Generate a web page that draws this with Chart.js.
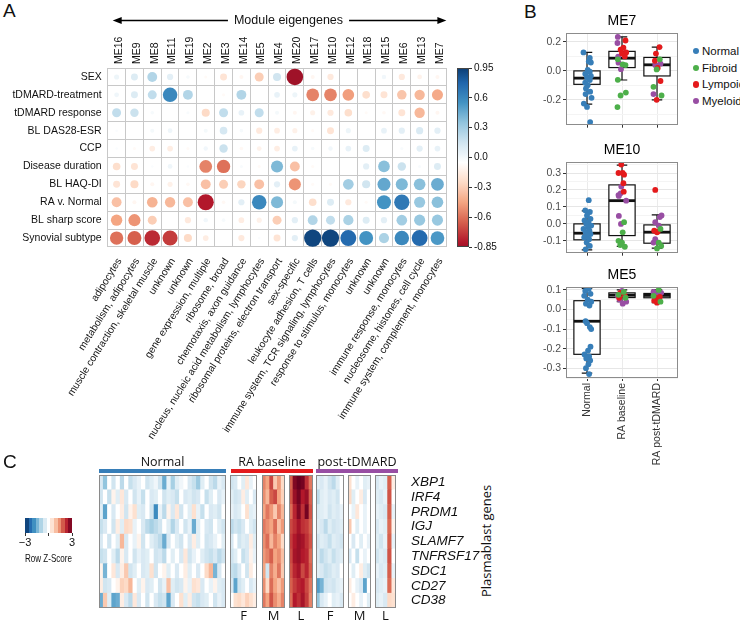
<!DOCTYPE html>
<html>
<head>
<meta charset="utf-8">
<script src="https://cdn.jsdelivr.net/npm/chart.js@4.4.1/dist/chart.umd.min.js"></script>
<style>
  body { margin: 0; background: #fff; width: 740px; height: 624px; position: relative; overflow: hidden;
         font-family: "Liberation Sans", Arial, sans-serif; color: #111; }
  canvas, .t { position: absolute; }
  .t { white-space: nowrap; }
  .letter { font-size: 19px; }
  .grp { font-family: "Open Sans", sans-serif; font-size: 12.5px; text-align: center; top: 455px; line-height: 14px; }
  .bar { position: absolute; top: 469px; height: 3.5px; }
  .dot { position: absolute; left: 692.5px; width: 6.5px; height: 6.5px; border-radius: 50%; }
  .leg { position: absolute; left: 702px; font-size: 11.5px; line-height: 14px; }
</style>
</head>
<body>
<div class="t letter" style="left:3px;top:0px">A</div>
<div class="t letter" style="left:524px;top:1px">B</div>

<canvas id="cA" width="455" height="455" style="left:0;top:0"></canvas>
<canvas id="cBar" width="45" height="195" style="left:452px;top:60px"></canvas>

<canvas id="cB1" width="160" height="122" style="left:525px;top:11px"></canvas>
<canvas id="cB2" width="160" height="121" style="left:525px;top:140px"></canvas>
<canvas id="cB3" width="160" height="208" style="left:525px;top:265px"></canvas>
<div id="legendB"></div>

<div class="t letter" style="left:3px;top:451px">C</div>
<div class="t grp" style="left:99px;width:127px">Normal</div>
<div class="t grp" style="left:231px;width:82px">RA baseline</div>
<div class="t grp" style="left:316px;width:82px">post-tDMARD</div>
<div class="bar" style="left:99px;width:127px;background:#377EB8"></div>
<div class="bar" style="left:231px;width:82px;background:#E41A1C"></div>
<div class="bar" style="left:316px;width:82px;background:#984EA3"></div>
<div class="t" style="left:430px;top:532px;width:112px;text-align:center;font-family:'Open Sans',sans-serif;font-size:13px;transform:rotate(-90deg)">Plasmablast genes</div>

<canvas id="cKey" width="70" height="55" style="left:15px;top:510px"></canvas>
<canvas id="cH0" width="127" height="149" style="left:99px;top:475px"></canvas>
<canvas id="cH1" width="27" height="149" style="left:230px;top:475px"></canvas>
<canvas id="cH2" width="23" height="149" style="left:262px;top:475px"></canvas>
<canvas id="cH3" width="24" height="149" style="left:289px;top:475px"></canvas>
<canvas id="cH4" width="28" height="149" style="left:316px;top:475px"></canvas>
<canvas id="cH5" width="23" height="149" style="left:348px;top:475px"></canvas>
<canvas id="cH6" width="121" height="149" style="left:375px;top:475px"></canvas>

<script>
// ---------- panel A data ----------
const traits = ['SEX', 'tDMARD-treatment', 'tDMARD response', 'BL DAS28-ESR', 'CCP', 'Disease duration',
  'BL HAQ-DI', 'RA v. Normal', 'BL sharp score', 'Synovial subtype'];
const modules = ['ME16', 'ME9', 'ME8', 'ME11', 'ME19', 'ME2', 'ME3', 'ME14', 'ME5', 'ME4', 'ME20',
  'ME17', 'ME10', 'ME12', 'ME18', 'ME15', 'ME6', 'ME13', 'ME7'];
const moduleNotes = ['adipocytes', 'metabolism, adipocytes', 'muscle contraction, skeletal muscle', 'unknown',
  'unknown', 'gene expression, multiple', 'ribosome, broad', 'chemotaxis, axon guidance',
  'nucleus, nucleic acid metabolism, lymphocytes', 'ribosomal proteins, electron transport', 'sex-specific',
  'leukocyte adhesion, T cells', 'immune system, TCR signaling, lymphocytes', 'response to stimulus, monocytes',
  'unknown', 'unknown', 'immune response, monocytes', 'nucleosome, histones, cell cycle',
  'immune system, complement, monocytes'];

const corrSex       = [0.08, 0.15, 0.3, 0.12, 0.04, -0.03, -0.15, -0.05, -0.25, 0.2, -0.85, -0.05, -0.12, 0, 0, 0.06, -0.12, -0.07, -0.05];
const corrTreatment = [0.07, 0.15, 0.25, 0.65, 0.3, 0, -0.03, 0.3, 0, 0.1, 0.08, -0.5, -0.5, -0.42, -0.18, -0.15, -0.28, -0.33, -0.38];
const corrResponse  = [0.25, 0.22, 0.04, 0, 0.03, -0.2, 0.25, 0.1, 0.25, 0.05, -0.05, -0.08, -0.12, -0.18, -0.03, -0.04, -0.15, -0.33, -0.05];
const corrDas28     = [0.02, 0, 0.05, 0.07, 0, 0.05, 0.18, 0.04, -0.12, -0.1, -0.08, -0.03, -0.15, 0.08, 0, 0.1, 0.12, 0.16, 0.12];
const corrCcp       = [0.02, -0.03, -0.1, -0.1, -0.03, 0.06, 0.22, -0.04, -0.07, -0.1, 0.1, 0.04, 0.06, 0.1, 0.15, 0, 0.03, 0.12, 0.1];
const corrDuration  = [-0.18, -0.15, 0.02, 0.07, 0.02, -0.5, -0.55, 0.03, -0.03, 0.45, -0.3, -0.03, 0, 0, 0.12, 0.42, 0.22, 0.03, 0.15];
const corrHaq       = [-0.15, -0.2, -0.05, -0.08, -0.04, -0.3, -0.25, -0.22, -0.3, 0.12, -0.45, -0.03, -0.03, 0.35, 0.2, 0.52, 0.45, 0.42, 0.5];
const corrRaNormal  = [-0.3, -0.05, -0.35, -0.33, -0.3, -0.8, -0.04, 0.12, 0.65, 0.45, 0.05, -0.18, 0.15, -0.12, -0.03, 0.6, 0.72, 0.38, 0.42];
const corrSharp     = [-0.4, -0.45, -0.25, 0, -0.12, 0.06, 0.04, -0.1, -0.08, -0.25, 0.12, 0.3, 0.25, 0.32, 0.15, 0.12, 0.35, 0.38, 0.38];
const corrSubtype   = [-0.55, -0.6, -0.75, -0.7, -0.2, -0.1, 0, -0.12, 0.02, -0.15, 0.12, 0.92, 0.92, 0.78, 0.6, 0.32, 0.65, 0.78, 0.58];
const corrRows = [corrSex, corrTreatment, corrResponse, corrDas28, corrCcp, corrDuration, corrHaq, corrRaNormal, corrSharp, corrSubtype];

const cbarTicks = [0.95, 0.65, 0.35, 0.05, -0.25, -0.55, -0.85];
const cbarLabels = ['0.95', '0.6', '0.3', '0.0', '-0.3', '-0.6', '-0.85'];

// ---------- panel B data ----------
const groups = ['Normal', 'RA baseline', 'RA post-tDMARD'];
const subtypes = ['Normal', 'Fibroid', 'Lympoid', 'Myeloid'];
const subColors = ['#377EB8', '#4DAF4A', '#E41A1C', '#984EA3'];

const me7Normal = [[0.9, 0.128], [1.08, 0.089], [1.05, 0.065], [1.11, 0.058], [1.02, 0.007], [1.08, -0.005], [0.95, -0.02],
  [1.11, -0.035], [1.0, -0.044], [1.08, -0.063], [0.95, -0.082], [1.02, -0.1], [0.97, -0.121], [1.09, -0.144],
  [0.96, -0.16], [1.13, -0.186], [0.91, -0.226], [1.0, -0.249], [1.09, -0.354]];
const me7Fibroid = [[1.88, 0.08], [2.02, 0.045], [2.1, 0.04], [1.88, -0.062], [2.11, -0.15], [1.96, -0.17], [1.87, -0.25],
  [3.08, 0.08], [2.99, 0.01], [2.9, -0.11], [3.13, -0.17]];
const me7Lympoid = [[2.1, 0.21], [2.04, 0.16], [1.96, 0.147], [2.12, 0.128], [2.0, 0.12], [2.08, 0.1],
  [3.07, 0.165], [2.97, 0.12], [2.94, 0.07], [3.02, 0.02], [3.1, -0.07], [2.99, -0.2]];
const me7Myeloid = [[1.88, 0.235], [1.87, 0.193], [1.89, 0.098], [1.9, 0.057], [1.97, 0.012],
  [2.95, 0.04], [3.1, 0.05], [2.9, -0.16]];
const me7Stats = [[-0.23, -0.093, -0.05, 0.0, 0.128], [-0.063, 0.023, 0.088, 0.135, 0.235], [-0.2, -0.035, 0.042, 0.093, 0.165]];
const me7Ticks = [-0.3, -0.2, -0.1, 0, 0.1, 0.2];

const me10Normal = [[1.05, 0.14], [0.95, 0.08], [1.08, 0.07], [1.0, 0.05], [1.1, 0.03], [0.93, 0.02], [1.04, 0.01],
  [0.98, 0.0], [1.12, -0.01], [1.03, -0.02], [0.9, -0.03], [1.07, -0.04], [0.96, -0.05], [1.1, -0.06], [1.0, -0.07],
  [0.92, -0.08], [1.06, -0.09], [0.99, -0.11], [1.08, -0.13], [0.96, -0.15]];
const me10Fibroid = [[2.06, 0.01], [2.02, -0.05], [1.9, -0.1], [2.0, -0.11], [1.95, -0.125], [2.08, -0.135],
  [3.1, -0.03], [3.05, -0.11], [3.12, -0.13], [3.0, -0.145]];
const me10Lympoid = [[1.98, 0.35], [1.9, 0.3], [2.02, 0.3], [2.06, 0.29], [2.04, 0.24], [2.05, 0.19],
  [2.95, 0.2], [2.92, -0.04], [3.02, -0.045], [3.0, -0.05]];
const me10Myeloid = [[1.98, 0.22], [1.9, 0.17], [1.96, 0.18], [1.91, 0.165], [2.12, 0.137], [1.91, 0.047], [1.97, 0.0],
  [3.13, 0.05], [3.08, 0.04], [2.95, 0.01], [3.05, -0.01], [2.9, -0.11], [2.95, -0.09]];
const me10Stats = [[-0.153, -0.094, -0.055, 0.0, 0.077], [-0.133, -0.069, 0.137, 0.23, 0.347], [-0.143, -0.114, -0.049, -0.006, 0.053]];
const me10Ticks = [-0.15, -0.1, -0.05, 0, 0.05, 0.1, 0.15, 0.2, 0.25, 0.3, 0.35];

const me5Normal = [[1.05, 0.105], [0.95, 0.095], [1.1, 0.08], [0.92, 0.07], [1.02, 0.05], [1.12, 0.04], [0.97, 0.03],
  [1.07, 0.02], [0.96, -0.06], [1.0, -0.07], [1.08, -0.09], [1.12, -0.1], [1.1, -0.19], [1.03, -0.21], [0.93, -0.23],
  [1.06, -0.24], [0.98, -0.25], [1.09, -0.26], [1.04, -0.28], [0.97, -0.3], [1.06, -0.33]];
const me5Fibroid = [[2.05, 0.09], [1.9, 0.075], [2.1, 0.06], [3.05, 0.1], [3.1, 0.04], [2.9, 0.07]];
const me5Lympoid = [[1.95, 0.085], [2.08, 0.07], [1.92, 0.06], [2.95, 0.06], [3.02, 0.05], [2.92, 0.045], [3.08, 0.065], [3.0, 0.035]];
const me5Myeloid = [[2.0, 0.095], [1.93, 0.05], [2.12, 0.04], [2.02, 0.03], [1.88, 0.07], [2.9, 0.09], [3.12, 0.085], [3.0, 0.075]];
const me5Stats = [[-0.325, -0.229, -0.06, 0.045, 0.108], [0.04, 0.061, 0.073, 0.085, 0.1], [0.035, 0.06, 0.072, 0.082, 0.1]];
const me5Ticks = [-0.35, -0.3, -0.25, -0.2, -0.15, -0.1, -0.05, 0, 0.05, 0.1];

// ---------- panel C data (row z-scores) ----------
const geneNames = ['XBP1', 'IRF4', 'PRDM1', 'IGJ', 'SLAMF7', 'TNFRSF17', 'SDC1', 'CD27', 'CD38'];
const heatNormal = [
  [-0.5, -1.2, 0, -0.6, 0, -0.8, 0, -0.7, -0.5, -0.3, 0, -0.6, -0.4, -0.2, -0.6, -1.5, -0.3, -1, -0.4, -0.2, 0, -0.5, -0.7, -1.1, -0.4, 0, -0.6, -0.8, -0.3, -0.5],
  [-0.6, 0, -0.7, 0.2, -0.4, 0.4, -0.5, 0, -0.6, -0.3, -0.7, 0, -0.5, -0.4, 0, -0.6, -0.4, -0.5, -0.7, 0, -0.5, -0.4, -0.6, -0.5, 0, -0.7, -0.4, 0, -0.5, -0.3],
  [-0.4, -1.6, 0, -0.5, 0, 0.3, -0.6, 0.2, 0.5, -0.4, -0.5, 0, -0.6, -1.9, -0.3, -0.8, 0.2, -0.5, 0.4, -0.6, 0, -0.4, 0.5, -0.3, -0.7, 0, -0.5, -0.4, -0.6, 0],
  [-0.7, -0.5, 0, -0.6, 0.3, -0.4, 0.6, 0.5, -0.3, 0, -0.5, -0.8, -1, -0.8, -0.6, 0, -0.4, -0.9, -0.5, 0, -0.6, -0.3, -1.5, -0.4, 0, -0.5, -0.6, 0, -0.4, -0.6],
  [-0.5, 0, -0.6, 0, -0.4, 1, -0.5, 0, -0.3, 0.2, -0.6, 0, -0.4, -0.6, -0.8, -1.5, -0.5, 0, -0.4, -0.6, 0, -0.5, 0.3, -0.4, 0, -0.6, -0.5, -0.3, 0, -0.4],
  [-0.7, -0.6, 0, -0.4, -0.8, 0.2, -0.5, 0, -0.6, -0.3, -0.5, -0.4, 0, -0.6, -0.5, -0.8, 0, -0.4, 0, -0.5, 0.4, -0.6, -0.3, 0, -0.4, -0.6, -0.7, -0.5, -0.8, -0.6],
  [0.2, -1.4, 0, 0.4, -0.5, 0.3, 0.8, -0.6, -0.4, 0, -0.5, -0.4, 0.5, -0.6, 0, 0.2, -0.4, 0, -0.5, 0, 0.3, -0.4, 0, -0.5, 0, 0.6, 1, -1.4, -0.5, 0],
  [0.3, -0.6, -0.5, 0, 0.2, 0.7, 0.6, 1, 0, -0.4, 0.2, -0.5, -0.4, 0, -0.6, -0.3, 0.9, -0.4, -0.6, -0.5, 0.2, -0.3, 0.5, 0.4, -0.5, 0, -0.3, 0.2, -0.4, -0.5],
  [-1.5, 0.8, -0.4, -1.6, -1.5, 0.3, -0.5, -0.8, 0.4, -0.5, 0, -0.6, 0, -0.5, -0.7, -0.6, -1.6, -0.5, 0, 0.5, -0.4, 0.3, -0.6, -0.7, -0.5, -0.4, 0, -0.6, -0.3, -0.5]
];
const heatRaF = [
  [-0.6, -0.5, 0, -0.4, 0.4, -0.3, 0], [-0.4, -0.6, -0.5, 0.3, -0.4, 0, -0.5], [-0.3, -0.5, -0.4, 0, 0.5, -0.4, -0.3],
  [-0.8, -0.6, -0.7, -0.5, 0, -0.4, -0.6], [-0.5, 0, -0.6, -0.4, -0.5, 0.3, -0.4], [-0.6, -0.4, 0, -0.7, -0.5, 0.2, -0.3],
  [-0.7, -0.8, -0.5, 0, -0.6, 0.3, 0], [-0.5, -1.6, -0.6, -0.4, 0, -0.5, -0.3], [0, 0.5, 0.6, 0.4, 0.7, 0.5, 0.3]
];
const heatRaM = [
  [1.5, 1.2, 2, 0.8, 1.3, 0.6], [1.4, 1, 1.8, 2, 1.2, 0.7], [1.2, 1.6, 1.3, 0.8, 1.5, 1],
  [1.6, 1.4, 1.2, 1.7, 0.9, 1.3], [1.4, 1.7, 1, 1.5, 1.2, 0.6], [1.3, 1.5, 1.8, 1.2, 1.4, 0.9],
  [1.2, -0.6, 1.5, 1.1, 1.6, 0.8], [1.4, 0.6, 1.7, 1.2, 0.9, 1.3], [1.6, 1.2, 1.9, 1.4, 1.1, 1.5]
];
const heatRaL = [
  [1.8, 2.8, 3, 2.9, 2.2, 1.6], [1.9, 2.6, 2.9, 2.4, 2.6, 1.8], [1.7, 2.3, 2.8, 2.2, 2.9, 1.9],
  [2, 2.2, 2.5, 2.2, 2.1, 1.8], [2.1, 2.4, 2.6, 2.5, 2.2, 1.9], [2, 2.5, 2.6, 2.4, 2.3, 1.7],
  [1.9, 2.3, 2.5, 2, 2.3, 1.8], [1.8, 2.1, 2.3, 2.4, 2, 1.6], [1.7, 2.4, 2.2, 2.5, 2.1, 1.5]
];
const heatPostF = [
  [-0.4, -0.5, -0.3, -0.6, -0.8, -0.4, 0], [-0.8, -0.4, -0.3, -0.5, -0.4, -0.6, 0], [-0.5, -0.4, -0.3, -0.6, -0.4, -0.5, -0.3],
  [-0.4, -0.5, -0.8, -0.4, -0.6, -0.5, -0.4], [-0.6, -0.4, -0.5, -0.7, -0.4, -0.5, -0.6], [-0.5, -0.8, -0.6, -0.4, -0.7, -0.5, -0.4],
  [-0.4, -0.5, -0.7, -0.6, -0.4, -0.5, 0], [-1.7, -1.4, -0.6, -0.5, -0.6, -0.4, -0.3], [-1.2, -0.5, -0.3, 0, -0.4, -0.3, -0.5]
];
const heatPostM = [
  [0.5, 0, -0.3, 0, -0.4, -0.3], [0.6, -0.4, 0, 0.3, -0.5, 0], [0, -0.3, 0.4, 0, -0.3, 0],
  [0.8, 0, -0.4, 0, -0.3, 0], [0, -0.5, 0, -0.4, 0, -0.3], [-0.5, 0, -0.7, 0, -0.3, 0],
  [0, -0.4, 0, 0.3, -0.4, -0.6], [0.3, 0, -0.3, -0.5, -1.6, 0], [0, 0.3, 0, -0.3, 0, -0.4]
];
const heatPostL = [
  [-0.5, -0.3, -0.4, 1.8, 0.3], [-0.4, -0.5, -0.3, 1.9, 0], [-0.3, -0.4, -0.5, 1.8, -0.3],
  [-0.5, -0.3, -0.4, 1.7, 0.2], [-0.4, -0.6, -0.3, 1.8, -0.3], [-0.6, -0.4, -0.5, 1.9, 0],
  [-0.3, -0.5, -0.4, 1.8, -0.3], [-0.5, -0.4, -0.3, 1.7, 0.4], [-0.4, -0.3, -0.5, 0.6, 0.5]
];
const keyTicks = [-3, 0, 3];
const keyLabels = ['\u22123', '', '3'];

// ---------- colours ----------
const PAL = ['#67001F', '#B2182B', '#D6604D', '#F4A582', '#FDDBC7', '#FFFFFF', '#D1E5F0', '#92C5DE', '#4393C3', '#2166AC', '#053061'];
const PALRGB = PAL.map(h => [1, 3, 5].map(i => parseInt(h.slice(i, i + 2), 16)));
function mix(t) {
  t = Math.max(0, Math.min(1, t));
  const p = t * (PAL.length - 1);
  const i = Math.min(Math.floor(p), PAL.length - 2), f = p - i;
  const a = PALRGB[i], b = PALRGB[i + 1];
  return 'rgb(' + a.map((c, k) => Math.round(c + (b[k] - c) * f)).join(',') + ')';
}
const corrColor = v => mix((v + 1) / 2);
const zColor = z => mix((3 - z) / 6);

Chart.defaults.font.family = '"Liberation Sans", Arial, sans-serif';
Chart.defaults.color = '#111';

function framePlugin(color) {
  return {
    id: 'frame',
    afterDraw(chart) {
      const a = chart.chartArea, ctx = chart.ctx;
      ctx.save();
      ctx.strokeStyle = color;
      ctx.lineWidth = 1;
      const l = Math.round(a.left) + 0.5, t = Math.round(a.top) + 0.5;
      ctx.strokeRect(l, t, Math.round(a.right) - 1 - l + 0.5, Math.round(a.bottom) - 1 - t + 0.5);
      ctx.restore();
    }
  };
}

// ---------- panel A ----------
const arrowHeader = {
  id: 'arrowHeader',
  afterDraw(chart) {
    const {ctx, chartArea: a} = chart;
    const y = 20.5, x0 = a.left + 5, x1 = a.right;
    ctx.save();
    ctx.strokeStyle = '#000';
    ctx.fillStyle = '#000';
    ctx.lineWidth = 1.5;
    ctx.beginPath(); ctx.moveTo(x0 + 6, y); ctx.lineTo(x1 - 6, y); ctx.stroke();
    ctx.beginPath(); ctx.moveTo(x0, y); ctx.lineTo(x0 + 9, y - 3.5); ctx.lineTo(x0 + 9, y + 3.5); ctx.closePath(); ctx.fill();
    ctx.beginPath(); ctx.moveTo(x1, y); ctx.lineTo(x1 - 9, y - 3.5); ctx.lineTo(x1 - 9, y + 3.5); ctx.closePath(); ctx.fill();
    ctx.font = '12.5px "Liberation Sans", Arial, sans-serif';
    const text = 'Module eigengenes';
    const w = ctx.measureText(text).width, cx = 288.5;
    ctx.fillStyle = '#fff';
    ctx.fillRect(cx - w / 2 - 6, y - 8, w + 12, 16);
    ctx.fillStyle = '#111';
    ctx.textAlign = 'center';
    ctx.textBaseline = 'middle';
    ctx.fillText(text, cx, y);
    ctx.restore();
  }
};

const ptsA = [];
traits.forEach((t, j) => corrRows[j].forEach((v, i) => ptsA.push({x: modules[i], y: t, v: v})));

new Chart(document.getElementById('cA'), {
  type: 'scatter',
  data: {
    datasets: [{
      data: ptsA,
      pointRadius: c => Math.sqrt(Math.abs(c.raw.v)) * 9,
      backgroundColor: c => corrColor(c.raw.v),
      borderWidth: 0
    }]
  },
  options: {
    responsive: false, animation: false, events: [],
    layout: {padding: {right: 5}},
    plugins: {legend: {display: false}, tooltip: {enabled: false}},
    scales: {
      x: {
        type: 'category', labels: modules, position: 'top', offset: true,
        grid: {offset: true, color: '#c8c8c8', drawTicks: false}, border: {display: false},
        ticks: {autoSkip: false, minRotation: 90, maxRotation: 90, padding: 4, labelOffset: 15, color: '#111', font: {size: 10.5}},
        afterFit: s => { s.height = 68; }
      },
      xb: {
        type: 'category', labels: moduleNotes, position: 'bottom', offset: true,
        grid: {display: false}, border: {display: false},
        ticks: {autoSkip: false, minRotation: 58, maxRotation: 58, padding: 1, labelOffset: 3, color: '#111', font: {size: 10.2}},
        afterFit: s => { s.height = 208; }
      },
      y: {
        type: 'category', labels: traits, offset: true,
        grid: {offset: true, color: '#c8c8c8', drawTicks: false}, border: {display: false},
        ticks: {padding: 6, color: '#111', font: {size: 10.5}},
        afterFit: s => { s.width = 107.7; }
      }
    }
  },
  plugins: [arrowHeader]
});

new Chart(document.getElementById('cBar'), {
  type: 'bar',
  data: {
    labels: [''],
    datasets: [{
      data: [[-0.85, 0.95]],
      backgroundColor: c => {
        const a = c.chart.chartArea;
        if (!a) return '#fff';
        const g = c.chart.ctx.createLinearGradient(0, a.bottom, 0, a.top);
        for (let k = 0; k <= 36; k++) g.addColorStop(k / 36, corrColor(-0.85 + 1.8 * k / 36));
        return g;
      },
      borderWidth: 0, barPercentage: 1, categoryPercentage: 1
    }]
  },
  options: {
    responsive: false, animation: false, events: [],
    layout: {padding: {left: 5, top: 8, bottom: 8}},
    plugins: {legend: {display: false}, tooltip: {enabled: false}},
    scales: {
      x: {display: false},
      y: {
        position: 'right', min: -0.85, max: 0.95,
        afterBuildTicks: s => { s.ticks = cbarTicks.map(v => ({value: v})); },
        ticks: {autoSkip: false, callback: (v, i) => cbarLabels[i], font: {size: 10}, color: '#111', padding: 2},
        grid: {drawOnChartArea: false, tickLength: 3, color: '#333'}, border: {display: false},
        afterFit: s => { s.width = 28; }
      }
    }
  },
  plugins: [framePlugin('#444')]
});

// ---------- panel B ----------
const boxPlugin = {
  id: 'boxes',
  beforeDatasetsDraw(chart, args, opts) {
    const {ctx} = chart, x = chart.scales.x, y = chart.scales.y;
    ctx.save();
    ctx.strokeStyle = '#111';
    ctx.fillStyle = '#fff';
    opts.stats.forEach((s, i) => {
      const [lo, q1, med, q3, hi] = s.map(v => y.getPixelForValue(v));
      const g = i + 1;
      const cx = x.getPixelForValue(g);
      const bl = x.getPixelForValue(g - 0.375), br = x.getPixelForValue(g + 0.375);
      const cl = x.getPixelForValue(g - 0.15), cr = x.getPixelForValue(g + 0.15);
      ctx.lineWidth = 1.2;
      ctx.beginPath();
      ctx.moveTo(cx, hi); ctx.lineTo(cx, q3);
      ctx.moveTo(cx, q1); ctx.lineTo(cx, lo);
      ctx.moveTo(cl, hi); ctx.lineTo(cr, hi);
      ctx.moveTo(cl, lo); ctx.lineTo(cr, lo);
      ctx.stroke();
      ctx.fillRect(bl, q3, br - bl, q1 - q3);
      ctx.strokeRect(bl, q3, br - bl, q1 - q3);
      ctx.lineWidth = 2.8;
      ctx.beginPath(); ctx.moveTo(bl, med); ctx.lineTo(br, med); ctx.stroke();
    });
    ctx.restore();
  }
};

function boxChart(id, title, pts, stats, yMin, yMax, yTicks, majorStep, opt) {
  const isMajor = v => Math.abs(Math.round(v * 100) % Math.round(majorStep * 100)) === 0;
  const fmt = v => (Math.abs(v) < 1e-9 ? 0 : v).toFixed(1);
  const datasets = subtypes.map((s, k) => ({
    label: s,
    data: pts[k].map(p => ({x: p[0], y: p[1]})),
    backgroundColor: subColors[k], borderWidth: 0, pointRadius: 2.9
  }));
  return new Chart(document.getElementById(id), {
    type: 'scatter',
    data: {datasets},
    options: {
      responsive: false, animation: false, events: [],
      layout: {padding: {right: 7}},
      plugins: {
        legend: {display: false},
        tooltip: {enabled: false},
        title: {display: true, text: title, fullSize: false, font: {size: 14, weight: 'normal'}, color: '#000', padding: {top: 2, bottom: 3.2}},
        boxes: {stats}
      },
      scales: {
        x: {
          type: 'linear', min: 0.4, max: 3.6,
          afterBuildTicks: s => { s.ticks = [1, 2, 3].map(v => ({value: v})); },
          grid: {color: '#ebebeb', tickLength: 3, tickColor: '#333'}, border: {display: false},
          ticks: {display: opt.xLabels, autoSkip: false, callback: v => groups[v - 1], minRotation: 90, maxRotation: 90, font: {size: 10.5}, color: '#333', padding: 2},
          afterFit: s => { s.height = opt.xHeight; }
        },
        y: {
          min: yMin, max: yMax,
          afterBuildTicks: s => { s.ticks = yTicks.map(v => ({value: v})); },
          grid: {
            color: c => isMajor(c.tick.value) ? '#e6e6e6' : '#f4f4f4',
            tickLength: 3,
            tickColor: c => isMajor(c.tick.value) ? '#333' : 'rgba(0,0,0,0)'
          },
          border: {display: false},
          ticks: {autoSkip: false, callback: v => isMajor(v) ? fmt(v) : '', font: {size: 10.5}, color: '#4d4d4d', padding: 2},
          afterFit: s => { s.width = 41; }
        }
      }
    },
    plugins: [boxPlugin, framePlugin('#8c8c8c')]
  });
}

boxChart('cB1', 'ME7', [me7Normal, me7Fibroid, me7Lympoid, me7Myeloid], me7Stats, -0.372, 0.262, me7Ticks, 0.2,
  {xLabels: false, xHeight: 8});
boxChart('cB2', 'ME10', [me10Normal, me10Fibroid, me10Lympoid, me10Myeloid], me10Stats, -0.17, 0.365, me10Ticks, 0.1,
  {xLabels: false, xHeight: 8});
boxChart('cB3', 'ME5', [me5Normal, me5Fibroid, me5Lympoid, me5Myeloid], me5Stats, -0.35, 0.115, me5Ticks, 0.1,
  {xLabels: true, xHeight: 95});

// legend for panel B, one row per subtype
const legendB = document.getElementById('legendB');
const legendRowsY = [51, 67.8, 84.4, 101];
subtypes.forEach((s, k) => {
  const d = document.createElement('div');
  d.className = 'dot';
  d.style.top = (legendRowsY[k] - 3.25) + 'px';
  d.style.background = subColors[k];
  legendB.appendChild(d);
  const t = document.createElement('div');
  t.className = 'leg';
  t.style.top = (legendRowsY[k] - 7) + 'px';
  t.textContent = s;
  legendB.appendChild(t);
});

// ---------- panel C ----------
function heatChart(id, z, label, withGenes) {
  const datasets = geneNames.map((g, r) => ({
    label: g,
    data: z[r].map(() => 1),
    backgroundColor: z[r].map(zColor),
    borderWidth: 0, barPercentage: 1, categoryPercentage: 1
  })).reverse();
  const scales = {
    x: {
      stacked: true, grid: {display: false}, border: {display: false}, ticks: {display: false},
      title: {display: !!label, text: label, padding: 0, font: {size: 13, family: '"Open Sans", sans-serif'}, color: '#111'},
      afterFit: s => { s.height = 16; }
    },
    y: {stacked: true, display: false, min: 0, max: 9}
  };
  if (withGenes) {
    scales.g = {
      type: 'category', labels: geneNames, position: 'right', offset: true,
      grid: {display: false}, border: {display: false},
      ticks: {autoSkip: false, color: '#111', font: {size: 13.5, style: 'italic'}, padding: 7},
      afterFit: s => { s.width = 100; s.paddingTop = 0; s.paddingBottom = 0; }
    };
  }
  new Chart(document.getElementById(id), {
    type: 'bar',
    data: {labels: z[0].map((_, i) => String(i + 1)), datasets},
    options: {
      responsive: false, animation: false, events: [],
      plugins: {legend: {display: false}, tooltip: {enabled: false}},
      scales
    },
    plugins: [framePlugin('#8a8a8a')]
  });
}

heatChart('cH0', heatNormal, '', false);
heatChart('cH1', heatRaF, 'F', false);
heatChart('cH2', heatRaM, 'M', false);
heatChart('cH3', heatRaL, 'L', false);
heatChart('cH4', heatPostF, 'F', false);
heatChart('cH5', heatPostM, 'M', false);
heatChart('cH6', heatPostL, 'L', true);

new Chart(document.getElementById('cKey'), {
  type: 'bar',
  data: {
    labels: [''],
    datasets: [{
      data: [[-3, 3]],
      backgroundColor: c => {
        const a = c.chart.chartArea;
        if (!a) return '#fff';
        const g = c.chart.ctx.createLinearGradient(a.left, 0, a.right, 0);
        const bands = 13;
        for (let k = 0; k < bands; k++) {
          const col = zColor(-3 + 6 * (k + 0.5) / bands);
          g.addColorStop(k / bands, col);
          g.addColorStop((k + 1) / bands, col);
        }
        return g;
      },
      borderWidth: 0, barPercentage: 1, categoryPercentage: 1
    }]
  },
  options: {
    indexAxis: 'y',
    responsive: false, animation: false, events: [],
    layout: {padding: {left: 10, right: 13, top: 8}},
    plugins: {legend: {display: false}, tooltip: {enabled: false}},
    scales: {
      y: {display: false},
      x: {
        min: -3, max: 3,
        afterBuildTicks: s => { s.ticks = keyTicks.map(v => ({value: v})); },
        ticks: {autoSkip: false, callback: (v, i) => keyLabels[i], font: {size: 11}, color: '#111', padding: 0, maxRotation: 0},
        grid: {drawOnChartArea: false, tickLength: 3, color: '#333'}, border: {display: false},
        title: {display: true, text: 'Row Z-Score', padding: 0, font: {size: 10.5}, color: '#111'},
        afterFit: s => { s.height = 32; }
      }
    }
  }
});
</script>
</body>
</html>
